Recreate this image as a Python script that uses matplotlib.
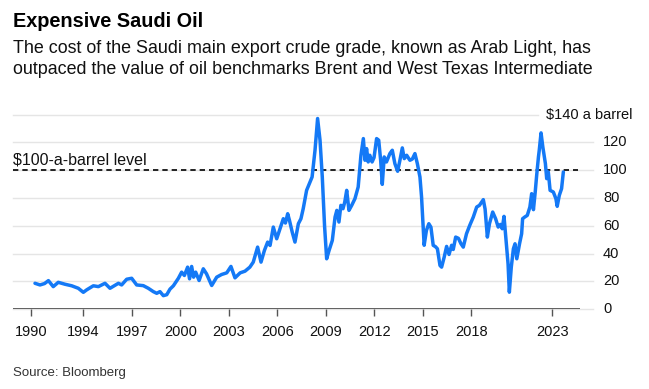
import matplotlib
matplotlib.use("Agg")
import matplotlib.pyplot as plt
import matplotlib.transforms as mtrans

plt.rcParams['font.family'] = ['Liberation Sans', 'DejaVu Sans']

# ---- data (decimal year, $ per barrel) ----
years = [1991.01, 1991.32, 1991.6, 1991.84, 1992.14, 1992.45, 1992.87, 1993.28, 1993.69,
         1994.0, 1994.21, 1994.62, 1994.93, 1995.34, 1995.65, 1996.17, 1996.37, 1996.68,
         1996.99, 1997.3, 1997.71, 1998.02, 1998.33, 1998.54, 1998.74, 1998.95, 1999.16,
         1999.36, 1999.57, 1999.88, 2000.08, 2000.25, 2000.45, 2000.57, 2000.70, 2000.82,
         2000.95, 2001.16, 2001.42, 2001.62, 2001.94, 2002.25, 2002.55, 2002.87, 2003.13,
         2003.38, 2003.7, 2004.0, 2004.3, 2004.51, 2004.78, 2004.99, 2005.2, 2005.40,
         2005.55, 2005.75, 2005.96, 2006.2, 2006.37, 2006.5, 2006.64, 2006.75, 2006.92,
         2007.09, 2007.3, 2007.46, 2007.6, 2007.81, 2008.02, 2008.15, 2008.33, 2008.49,
         2008.64, 2008.78, 2008.92, 2009.05, 2009.2, 2009.40, 2009.57, 2009.68, 2009.81,
         2009.93, 2010.06, 2010.17, 2010.29, 2010.43, 2010.6, 2010.8, 2011.0, 2011.17,
         2011.32, 2011.42, 2011.52, 2011.62, 2011.72, 2011.86, 2011.98, 2012.14, 2012.27,
         2012.39, 2012.49, 2012.61, 2012.75, 2012.96, 2013.11, 2013.27, 2013.44, 2013.58,
         2013.73, 2013.85, 2014.0, 2014.2, 2014.35, 2014.51, 2014.66, 2014.82, 2014.92,
         2015.02, 2015.08, 2015.22, 2015.37, 2015.5, 2015.64, 2015.78, 2015.9, 2016.06,
         2016.16, 2016.32, 2016.47, 2016.62, 2016.78, 2016.88, 2017.03, 2017.2, 2017.36,
         2017.50, 2017.7, 2017.9, 2018.12, 2018.33, 2018.5, 2018.74, 2018.85, 2018.99,
         2019.12, 2019.32, 2019.5, 2019.66, 2019.8, 2019.91, 2020.02, 2020.15, 2020.27,
         2020.35, 2020.47, 2020.60, 2020.7, 2020.81, 2020.98, 2021.11, 2021.17, 2021.3,
         2021.46, 2021.62, 2021.73, 2021.84, 2021.95, 2022.04, 2022.15, 2022.2, 2022.31,
         2022.42, 2022.58, 2022.66, 2022.76, 2022.87, 2023.07, 2023.23, 2023.31, 2023.44,
         2023.58, 2023.69]
prices = [18.7, 17.5, 18.5, 20.6, 16.3, 19.4, 18.0, 16.9, 15.1,
          12.2, 14.0, 16.9, 16.3, 18.7, 15.1, 18.7, 17.5, 21.6,
          22.3, 17.5, 17.0, 15.1, 12.7, 11.5, 12.7, 9.8, 10.5,
          14.5, 16.9, 22.3, 26.7, 24.3, 30.3, 21.9, 30.8, 23.1,
          26.7, 20.7, 29.1, 25.5, 17.1, 23.1, 25.0, 26.2, 30.8,
          22.6, 26.2, 27.4, 30.3, 33.9, 44.7, 33.9, 42.3, 48.3,
          45.9, 59.1, 50.7, 59.1, 65.1, 62.0, 68.7, 63.9, 55.5,
          48.3, 61.5, 65.1, 72.3, 85.5, 91.5, 95.1, 114.3, 137.1,
          121.5, 95.1, 60.0, 36.3, 42.3, 49.5, 66.3, 71.1, 62.7,
          74.7, 72.3, 77.1, 85.5, 71.1, 74.7, 79.5, 87.9, 110.7,
          122.7, 107.1, 115.5, 105.9, 110.7, 105.9, 109.0, 122.7, 121.5,
          107.1, 89.8, 109.5, 105.9, 111.9, 114.3, 104.7, 99.2, 107.0,
          116.0, 108.3, 110.7, 107.1, 108.0, 111.9, 104.7, 95.1, 80.7,
          59.1, 46.0, 56.7, 61.5, 59.0, 46.0, 45.0, 43.5, 31.5,
          30.3, 37.5, 45.2, 39.4, 46.0, 43.0, 51.9, 51.0, 47.1,
          44.7, 54.3, 60.3, 66.3, 73.5, 74.7, 78.8, 72.0, 51.9,
          61.5, 69.9, 65.1, 59.1, 61.0, 57.9, 66.8, 49.5, 32.7,
          12.3, 30.3, 43.5, 47.1, 36.3, 47.1, 54.3, 65.1, 66.3,
          67.5, 73.5, 83.1, 71.6, 84.3, 96.3, 109.5, 114.3, 126.8,
          116.7, 104.7, 93.9, 98.7, 85.5, 84.3, 79.5, 74.0, 81.9,
          86.7, 98.7]

x_tick_pos = [1990.75, 1994, 1997, 2000, 2003, 2006, 2009, 2012, 2015, 2018, 2023]
x_tick_labels = ["1990", "1994", "1997", "2000", "2003", "2006", "2009", "2012",
                 "2015", "2018", "2023"]
y_ticks = [0, 20, 40, 60, 80, 100, 120]
y_top = 140
level = 100

W, H = 649, 389
fig = plt.figure(figsize=(W / 100, H / 100), dpi=100)

def fx(px):
    return px / W

def fy(py):
    return 1 - py / H

ax = fig.add_axes([fx(13), fy(309.3), fx(580 - 13), (309.3 - 114.5) / H])
ax.set_xlim(1989.65, 2024.72)
ax.set_ylim(0, y_top)

for s in ax.spines.values():
    s.set_visible(False)

grid_ext = (593 - 13) / (580 - 13)
for v in y_ticks:
    ax.axhline(v, xmin=0, xmax=grid_ext, color='#e5e5e5', lw=1.0, clip_on=False, zorder=0)
ax.axhline(y_top, xmin=0, xmax=(538 - 13) / (580 - 13), color='#e5e5e5', lw=1.0,
           clip_on=False, zorder=0)
ax.axhline(0, xmin=0, xmax=1, color='#555555', lw=1.3, zorder=1)

ax.axhline(level, xmin=0, xmax=(578 - 13) / (580 - 13), color='black', lw=1.2,
           ls=(0, (3.2, 2.4)), zorder=2)

ax.plot(years, prices, color='#1479f6', lw=2.5, solid_joinstyle='round',
        solid_capstyle='round', zorder=3, clip_on=False)

ax.set_xticks(x_tick_pos)
ax.set_xticklabels(x_tick_labels, fontsize=10.5, color='#111111')
ax.tick_params(axis='x', direction='out', length=5, width=1, color='#555555', pad=6)
ax.set_yticks([])

# y labels on the right, placed in pixel x / data y
trans_px_data = mtrans.blended_transform_factory(
    mtrans.Affine2D().scale(1.0 / W, 1.0) + fig.transFigure, ax.transData)
for v in y_ticks:
    ax.text(603, v, str(v), transform=trans_px_data, fontsize=10.5, color='#111111',
            ha='left', va='center')
ax.text(546, y_top, "$140 a barrel", transform=trans_px_data, fontsize=10.5,
        color='#111111', ha='left', va='center')

ax.text(13, level + 2.0, "$100-a-barrel level", transform=trans_px_data, fontsize=11.5,
        color='#111111', ha='left', va='bottom')

fig.text(fx(13), fy(27.3), "Expensive Saudi Oil", fontsize=14.3, fontweight='bold',
         color='black', ha='left', va='baseline')
fig.text(fx(13), fy(53.3), "The cost of the Saudi main export crude grade, known as Arab Light, has",
         fontsize=12.9, color='#111111', ha='left', va='baseline')
fig.text(fx(13), fy(74.3), "outpaced the value of oil benchmarks Brent and West Texas Intermediate",
         fontsize=12.9, color='#111111', ha='left', va='baseline')
fig.text(fx(13), fy(376), "Source: Bloomberg", fontsize=9.5, color='#333333',
         ha='left', va='baseline')

fig.savefig("out.png", dpi=100, facecolor='white')
